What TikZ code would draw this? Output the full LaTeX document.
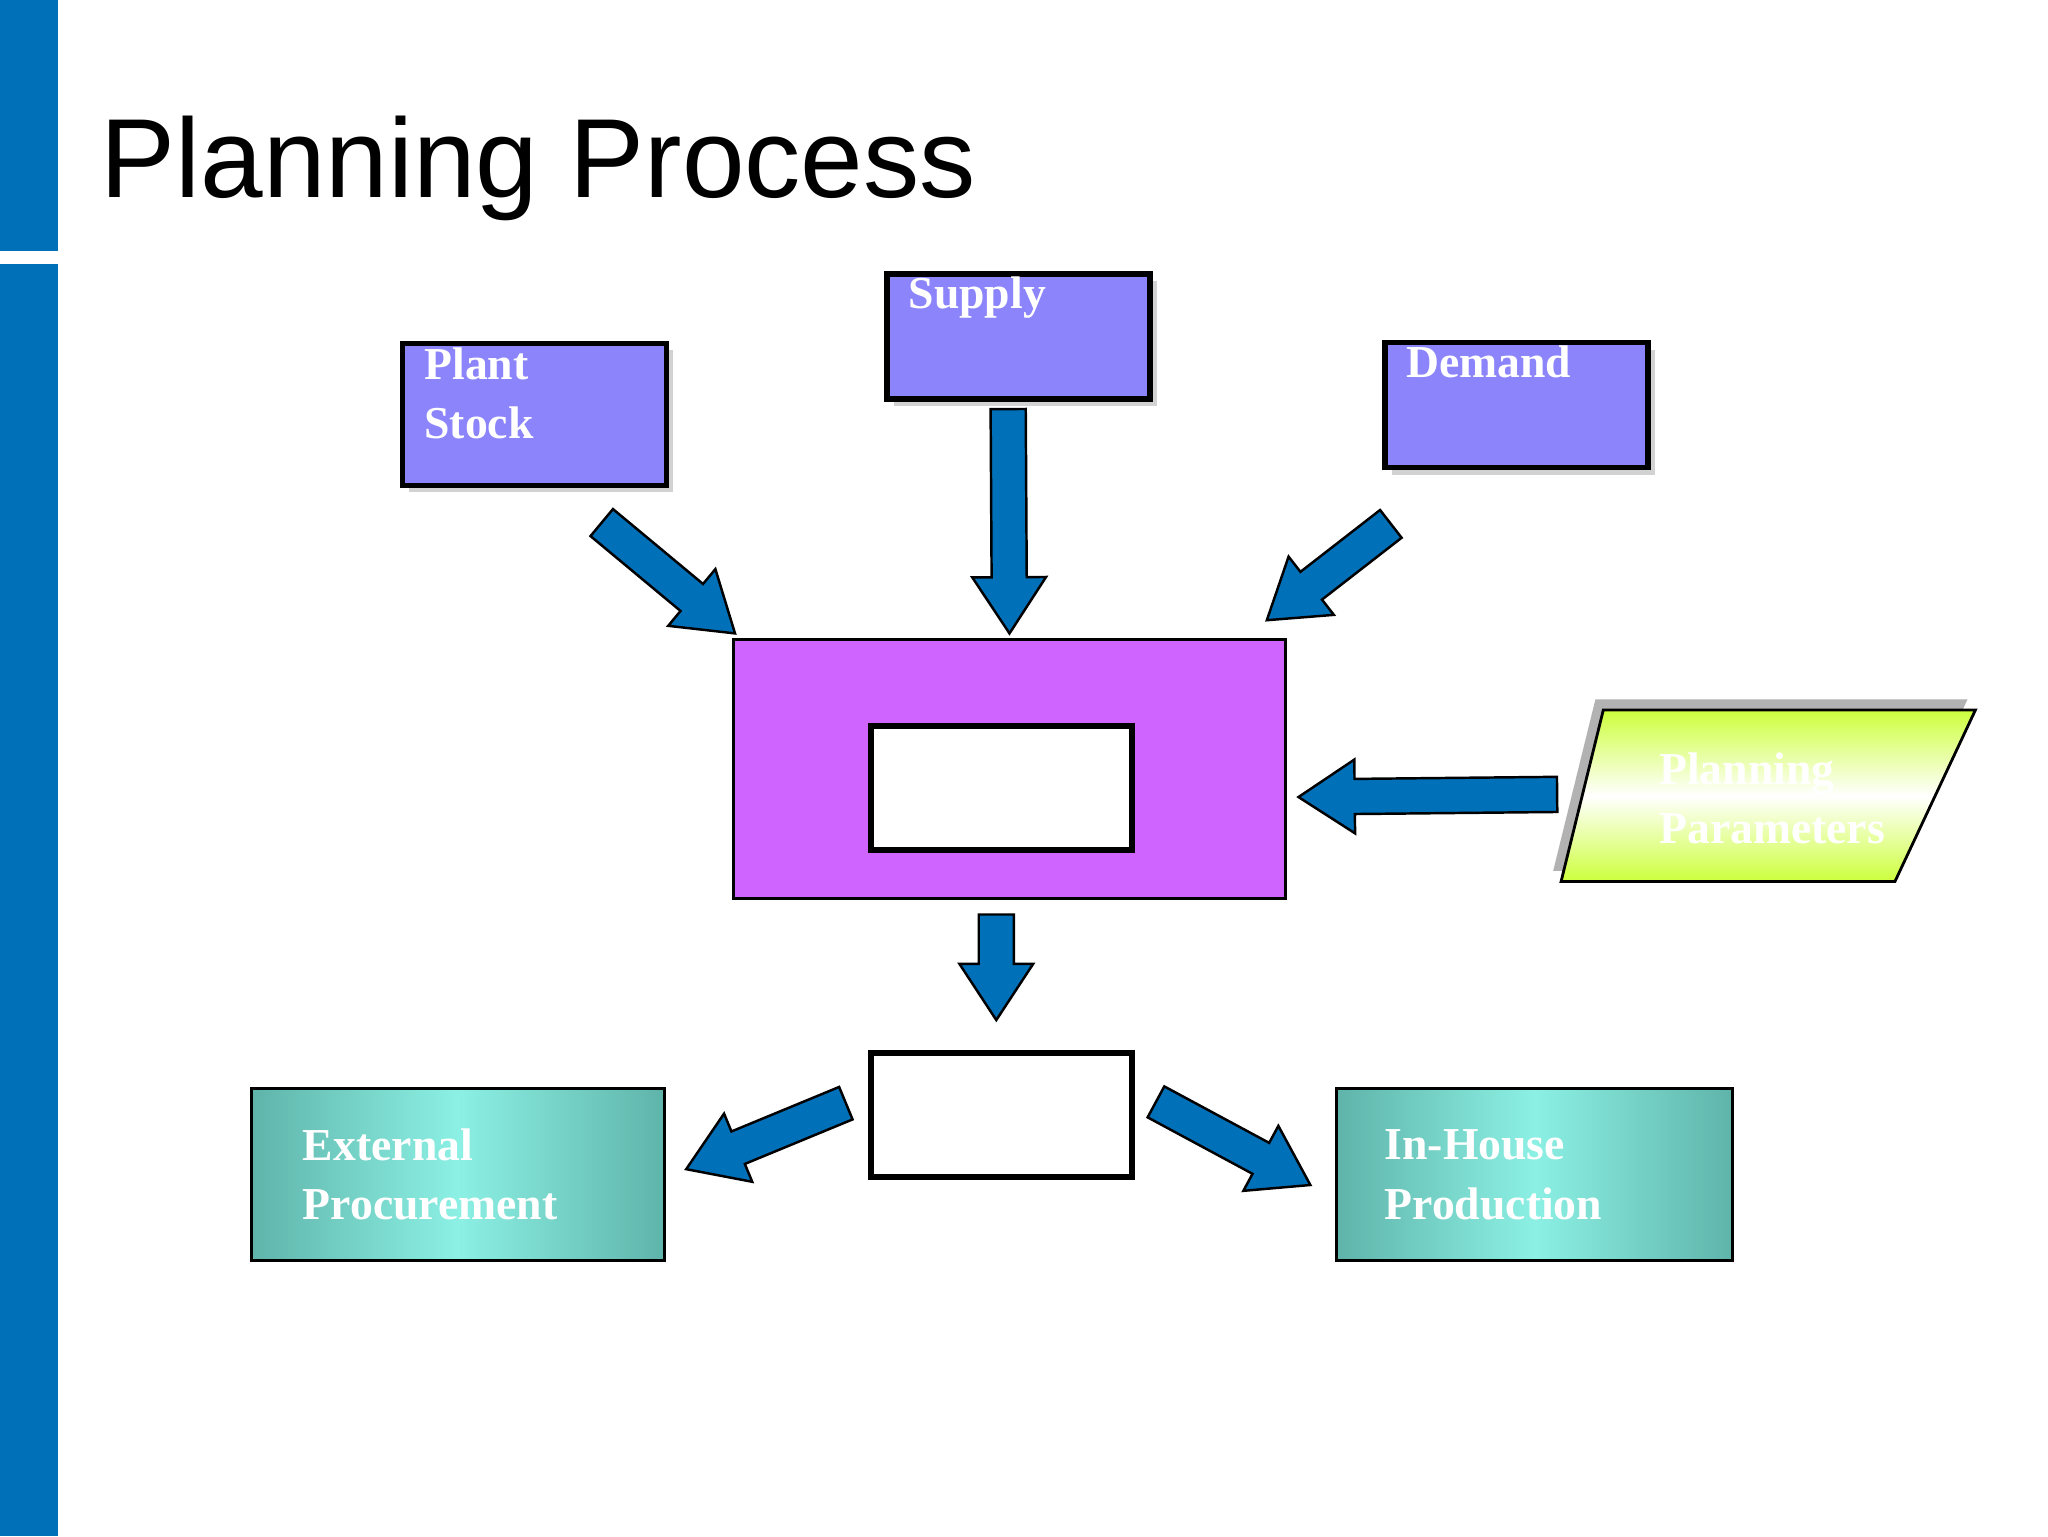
\documentclass[tikz,border=0pt]{standalone}
\usepackage{fontspec}
\setmainfont{Liberation Serif}
\newfontfamily\sansf{Liberation Sans}
\usetikzlibrary{calc,shadows}
\definecolor{sapblue}{RGB}{0,112,184}
\definecolor{boxviolet}{RGB}{140,132,250}
\definecolor{magentabox}{RGB}{208,100,255}
\definecolor{lime}{RGB}{205,255,60}
\definecolor{tealdark}{RGB}{95,180,170}
\definecolor{teallight}{RGB}{140,240,228}
\tikzset{
  src/.style={draw=black,line width=1.6pt,fill=boxviolet,inner sep=0pt,
    drop shadow={shadow xshift=2pt,shadow yshift=-2pt,opacity=0.35,fill=gray},
    font=\bfseries\fontsize{13}{17}\selectfont,text=white},
  wbox/.style={draw=black,line width=1.6pt,fill=white,inner sep=0pt,
    minimum width=2.61cm,minimum height=1.24cm},
  tbox/.style={draw=black,line width=0.8pt,inner sep=0pt,shading angle=45,
    left color=tealdark,right color=tealdark,middle color=teallight,
    minimum width=4.13cm,minimum height=1.72cm,
    font=\bfseries\fontsize{13}{17}\selectfont,text=white},
  arr/.style={draw=black,line width=0.7pt,fill=sapblue},
}
\newcommand\barrow[2]{%
  \coordinate (hb) at ($(#2)!16pt!(#1)$);
  \draw[arr] ($(#1)!5pt!90:(#2)$) -- ($(hb)!5pt!90:(#2)$) -- ($(hb)!10.5pt!90:(#2)$)
    -- (#2) -- ($(hb)!10.5pt!-90:(#2)$) -- ($(hb)!5pt!-90:(#2)$) -- ($(#1)!5pt!-90:(#2)$) -- cycle;}
\begin{document}
\begin{tikzpicture}[x=0.0132cm,y=-0.0132cm]
\useasboundingbox (0,0) rectangle (1552,1164);
\fill[white] (0,0) rectangle (1552,1164);
\fill[sapblue] (0,0) rectangle (44,190);
\fill[sapblue] (0,200) rectangle (44,1164);
\node[anchor=base west,font=\sansf\fontsize{32}{36}\selectfont,inner sep=0pt] (title) at (76,150) {Planning Process};

\node[src,minimum width=2.64cm,minimum height=1.42cm] (plant) at (405,314)
  {\parbox[t][1.2cm][t]{2.2cm}{\vspace{-2pt}Plant\\Stock}};
\node[src,minimum width=2.63cm,minimum height=1.25cm] (supply) at (772,255)
  {\parbox[t][1.05cm][t]{2.2cm}{\vspace{-2pt}Supply}};
\node[src,minimum width=2.63cm,minimum height=1.25cm] (demand) at (1149,307)
  {\parbox[t][1.05cm][t]{2.2cm}{\vspace{-2pt}Demand}};

\node[draw=black,line width=0.8pt,fill=magentabox,minimum width=5.52cm,minimum height=2.59cm,inner sep=0pt] (plan) at (765,583) {};
\node[wbox] (inner) at (759,597) {};
\node[wbox] (result) at (759,845) {};

% planning parameters
\fill[gray!60] (1177,660) -- (1209,530) -- (1491,530) -- (1430,660) -- cycle;
\shade[top color=lime,bottom color=lime,middle color=white,draw=black,line width=0.8pt]
  (1183,668) -- (1215,538) -- (1497,538) -- (1436,668) -- cycle;
\node[anchor=west,align=left,text=white,font=\bfseries\fontsize{13}{17}\selectfont] (params) at (1248,605) {Planning\\Parameters};

\node[tbox,align=left] (ext) at (347,890) {\parbox{3.1cm}{External\\Procurement}};
\node[tbox,align=left,minimum width=3.96cm] (inh) at (1163,890) {\parbox{3.0cm}{In-House\\Production}};

\coordinate (a1s) at (456,396); \coordinate (a1e) at (557,480);
\coordinate (a2s) at (764,310); \coordinate (a2e) at (765,480);
\coordinate (a3s) at (1054,397); \coordinate (a3e) at (960,470);
\coordinate (a4s) at (1180,602); \coordinate (a4e) at (984,604);
\coordinate (a5s) at (755,693); \coordinate (a5e) at (755,773);
\coordinate (a6s) at (641,836); \coordinate (a6e) at (520,886);
\coordinate (a7s) at (876,835); \coordinate (a7e) at (993,898);
\barrow{a1s}{a1e}
\barrow{a2s}{a2e}
\barrow{a3s}{a3e}
\barrow{a4s}{a4e}
\barrow{a5s}{a5e}
\barrow{a6s}{a6e}
\barrow{a7s}{a7e}
\end{tikzpicture}
\end{document}
